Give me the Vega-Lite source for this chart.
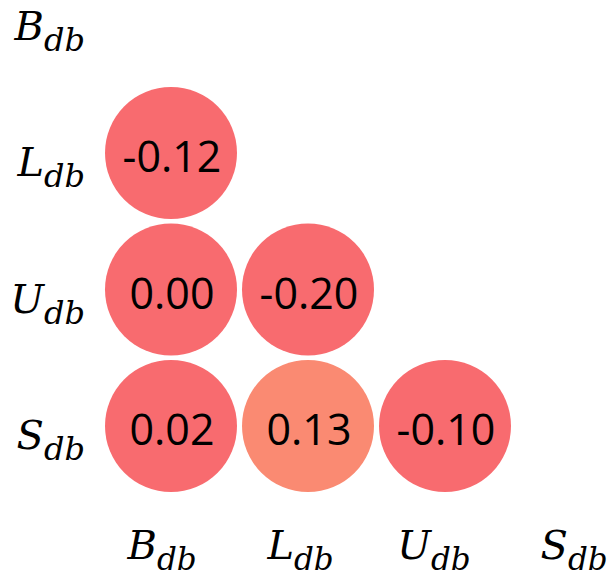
{
  "$schema": "https://vega.github.io/schema/vega-lite/v6.json",
  "width": 610,
  "height": 583,
  "autosize": "none",
  "padding": 0,
  "background": "white",
  "config": {"view": {"stroke": null}},
  "datasets": {
    "cells": [
      {"row": "L", "col": "B", "r": -0.12, "txt": "-0.12"},
      {"row": "U", "col": "B", "r": 0.0, "txt": "0.00"},
      {"row": "U", "col": "L", "r": -0.2, "txt": "-0.20"},
      {"row": "S", "col": "B", "r": 0.02, "txt": "0.02"},
      {"row": "S", "col": "L", "r": 0.13, "txt": "0.13"},
      {"row": "S", "col": "U", "r": -0.1, "txt": "-0.10"}
    ],
    "vars": [
      {"v": "B", "sub": "db", "pos": "lab"},
      {"v": "L", "sub": "db", "pos": "lab"},
      {"v": "U", "sub": "db", "pos": "lab"},
      {"v": "S", "sub": "db", "pos": "lab"}
    ]
  },
  "layer": [
    {
      "data": {"name": "cells"},
      "mark": {"type": "circle", "size": 17424, "opacity": 1},
      "encoding": {
        "x": {"field": "col", "type": "nominal", "axis": null,
              "scale": {"type": "band", "domain": ["lab", "B", "L", "U", "S"], "range": [-34.5, 650.5], "paddingInner": 0, "paddingOuter": 0}},
        "y": {"field": "row", "type": "nominal", "axis": null,
              "scale": {"type": "band", "domain": ["B", "L", "U", "S", "lab"], "range": [-51.75, 630.75], "paddingInner": 0, "paddingOuter": 0}},
        "color": {"field": "r", "type": "quantitative", "legend": null,
                  "scale": {"type": "threshold", "domain": [0.05], "range": ["#F86B6F", "#FA8A72"]}}
      }
    },
    {
      "data": {"name": "cells"},
      "mark": {"type": "text", "font": "Open Sans", "fontSize": 43, "color": "black", "baseline": "alphabetic", "align": "center", "dy": 19, "dx": 1},
      "encoding": {
        "x": {"field": "col", "type": "nominal"},
        "y": {"field": "row", "type": "nominal"},
        "text": {"field": "txt"}
      }
    },
    {
      "data": {"name": "vars"},
      "mark": {"type": "text", "font": "DejaVu Serif", "fontStyle": "italic", "fontSize": 40, "color": "black", "baseline": "alphabetic", "align": "right", "dx": 10, "dy": 23},
      "encoding": {
        "x": {"field": "pos", "type": "nominal"},
        "y": {"field": "v", "type": "nominal"},
        "text": {"field": "v"}
      }
    },
    {
      "data": {"name": "vars"},
      "mark": {"type": "text", "font": "DejaVu Serif", "fontStyle": "italic", "fontSize": 32, "color": "black", "baseline": "alphabetic", "align": "left", "dx": 10, "dy": 34},
      "encoding": {
        "x": {"field": "pos", "type": "nominal"},
        "y": {"field": "v", "type": "nominal"},
        "text": {"field": "sub"}
      }
    },
    {
      "data": {"name": "vars"},
      "mark": {"type": "text", "font": "DejaVu Serif", "fontStyle": "italic", "fontSize": 40, "color": "black", "baseline": "alphabetic", "align": "right", "dx": -14, "dy": -4},
      "encoding": {
        "x": {"field": "v", "type": "nominal"},
        "y": {"field": "pos", "type": "nominal"},
        "text": {"field": "v"}
      }
    },
    {
      "data": {"name": "vars"},
      "mark": {"type": "text", "font": "DejaVu Serif", "fontStyle": "italic", "fontSize": 31, "color": "black", "baseline": "alphabetic", "align": "left", "dx": -14, "dy": 7},
      "encoding": {
        "x": {"field": "v", "type": "nominal"},
        "y": {"field": "pos", "type": "nominal"},
        "text": {"field": "sub"}
      }
    }
  ]
}
